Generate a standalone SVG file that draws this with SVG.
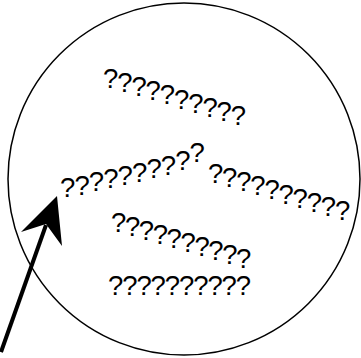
<svg xmlns="http://www.w3.org/2000/svg" width="361" height="358" viewBox="0 0 361 358">
<style>
.t{font-family:"Liberation Sans",Arial,sans-serif;font-size:27.5px;fill:#000}
</style>
<rect width="361" height="358" fill="#fff"/>
<g id="circle"><ellipse cx="184" cy="179" rx="176" ry="176" fill="#fff" stroke="#000" stroke-width="1.5"/></g>
<g id="labels">
<text class="t" x="103 117.2 131.4 145.6 159.8 174 188.2 202.4 216.6 230.8" y="88 92.1 96.2 100.3 104.4 108.5 112.6 116.7 120.8 124.9">??????????</text>
<text class="t" x="60 74.4 88.8 103.2 117.6 132 146.4 160.8 175.2 189.6" y="197 195 191 188 185 182 178 175 170 162">??????????</text>
<text class="t" x="208 222.1 236.2 250.3 264.4 278.5 292.6 306.7 320.8 334.9" y="183 187.1 191.2 195.3 199.4 203.5 207.6 211.7 215.8 219.9">??????????</text>
<text class="t" x="111 124.9 138.8 152.7 166.6 180.5 194.4 208.3 222.2 236.1" y="232 236 240 244 248 252 256 260 264 268">??????????</text>
<text class="t" x="108 122.2 136.4 150.6 164.8 179 193.2 207.4 221.6 235.8" y="295">??????????</text>
</g>
<g id="connectors">
<line x1="1" y1="352" x2="46" y2="225" stroke="#000" stroke-width="4"/>
<polygon points="57,196 62,246 46,224 21,232" fill="#000"/>
</g>
</svg>
